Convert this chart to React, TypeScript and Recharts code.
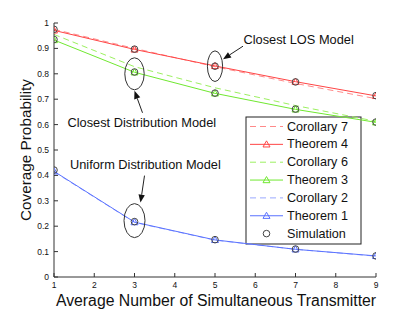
import React from 'react';
import { ComposedChart, Line, XAxis, YAxis, ReferenceDot, Customized } from 'recharts';

const xValues = [1, 3, 5, 7, 9];
const corollary7 = [0.975, 0.9, 0.828, 0.762, 0.702];
const theorem4 = [0.971, 0.896, 0.831, 0.769, 0.713];
const corollary6 = [0.955, 0.828, 0.745, 0.675, 0.613];
const theorem3 = [0.933, 0.806, 0.723, 0.66, 0.609];
const corollary2 = [0.414, 0.215, 0.145, 0.109, 0.082];
const theorem1 = [0.416, 0.216, 0.146, 0.109, 0.083];
const simLOS = [0.975, 0.897, 0.83, 0.768, 0.714];
const simClosest = [0.935, 0.807, 0.724, 0.661, 0.61];
const simUniform = [0.421, 0.218, 0.147, 0.11, 0.083];
const xTicks = [1, 2, 3, 4, 5, 6, 7, 8, 9];
const yTicks = [0, 0.1, 0.2, 0.3, 0.4, 0.5, 0.6, 0.7, 0.8, 0.9, 1];

const RED = '#ff4545';
const RED_D = '#ff8a8a';
const GREEN = '#70e830';
const GREEN_D = '#9cf060';
const BLUE = '#5a72ff';
const BLUE_D = '#9aa8ff';
const SIM = '#444';
const FONT = '"Liberation Sans", Arial, sans-serif';

const data = xValues.map((x, i) => ({
  x,
  c7: corollary7[i],
  t4: theorem4[i],
  c6: corollary6[i],
  t3: theorem3[i],
  c2: corollary2[i],
  t1: theorem1[i],
  sL: simLOS[i],
  sC: simClosest[i],
  sU: simUniform[i],
}));

const triangle = (color: string) => (props: any) => {
  const { cx, cy } = props;
  if (cx == null || cy == null) return <g />;
  const s = 3.5;
  return (
    <polygon
      points={`${cx},${cy - s} ${cx - s},${cy + s * 0.75} ${cx + s},${cy + s * 0.75}`}
      fill="none"
      stroke={color}
      strokeWidth={1}
    />
  );
};

const circle = (props: any) => {
  const { cx, cy } = props;
  if (cx == null || cy == null) return <g />;
  return <circle cx={cx} cy={cy} r={3.3} fill="none" stroke={SIM} strokeWidth={1} />;
};

const Arrow = ({ x1, y1, x2, y2 }: { x1: number; y1: number; x2: number; y2: number }) => {
  const ang = Math.atan2(y2 - y1, x2 - x1);
  const L = 8;
  const W = 3.2;
  const bx = x2 - L * Math.cos(ang);
  const by = y2 - L * Math.sin(ang);
  const px = -Math.sin(ang) * W;
  const py = Math.cos(ang) * W;
  return (
    <g>
      <line x1={x1} y1={y1} x2={bx} y2={by} stroke="#222" strokeWidth={1} />
      <polygon points={`${x2},${y2} ${bx + px},${by + py} ${bx - px},${by - py}`} fill="#111" />
    </g>
  );
};

const legendItems = [
  { label: 'Corollary 7', color: RED_D, dash: true, tri: false, sim: false },
  { label: 'Theorem 4', color: RED, dash: false, tri: true, sim: false },
  { label: 'Corollary 6', color: GREEN_D, dash: true, tri: false, sim: false },
  { label: 'Theorem 3', color: GREEN, dash: false, tri: true, sim: false },
  { label: 'Corollary 2', color: BLUE_D, dash: true, tri: false, sim: false },
  { label: 'Theorem 1', color: BLUE, dash: false, tri: true, sim: false },
  { label: 'Simulation', color: SIM, dash: false, tri: false, sim: true },
];

const Overlay = () => {
  const lx = 246;
  const ly = 117;
  return (
    <g>
      <text
        x={216}
        y={300}
        textAnchor="middle"
        dominantBaseline="central"
        fontFamily={FONT}
        fontSize={15.8}
        fill="#111"
      >
        Average Number of Simultaneous Transmitter
      </text>
      <text
        x={25}
        y={150}
        textAnchor="middle"
        dominantBaseline="central"
        fontFamily={FONT}
        fontSize={15.3}
        fill="#111"
        transform="rotate(-90 25 150)"
      >
        Coverage Probability
      </text>
      <rect x={lx} y={ly} width={115} height={127} fill="#fff" stroke="#222" strokeWidth={1} />
      {legendItems.map((it, i) => {
        const y = 126.5 + i * 17.85;
        return (
          <g key={it.label}>
            {!it.sim && (
              <line
                x1={250}
                x2={283}
                y1={y}
                y2={y}
                stroke={it.color}
                strokeWidth={1}
                strokeDasharray={it.dash ? '6 4' : undefined}
              />
            )}
            {it.tri && triangle(it.color)({ cx: 266.5, cy: y })}
            {it.sim && circle({ cx: 266.5, cy: y })}
            <text
              x={287}
              y={y}
              dominantBaseline="central"
              fontFamily={FONT}
              fontSize={12.6}
              fill="#111"
            >
              {it.label}
            </text>
          </g>
        );
      })}
    </g>
  );
};

const losShape = (props: any) => {
  const { cx, cy } = props;
  return (
    <g>
      <ellipse cx={cx} cy={cy} rx={7.6} ry={15.3} fill="none" stroke="#333" strokeWidth={1} />
      <Arrow x1={cx + 28} y1={cy - 20} x2={cx + 8} y2={cy - 7} />
      <text x={cx + 28.5} y={cy - 27} dominantBaseline="central" fontFamily={FONT} fontSize={12.8} fill="#111">
        Closest LOS Model
      </text>
    </g>
  );
};

const closestShape = (props: any) => {
  const { cx, cy } = props;
  return (
    <g>
      <ellipse cx={cx} cy={cy} rx={9.7} ry={16} fill="none" stroke="#333" strokeWidth={1} />
      <Arrow x1={cx + 8} y1={cy + 39} x2={cx} y2={cy + 17} />
      <text x={cx - 67} y={cy + 48.5} dominantBaseline="central" fontFamily={FONT} fontSize={12.8} fill="#111">
        Closest Distribution Model
      </text>
    </g>
  );
};

const uniformShape = (props: any) => {
  const { cx, cy } = props;
  return (
    <g>
      <ellipse cx={cx} cy={cy} rx={10.5} ry={17} fill="none" stroke="#333" strokeWidth={1} />
      <Arrow x1={cx + 10} y1={cy - 45} x2={cx + 6} y2={cy - 18} />
      <text x={cx - 64.5} y={cy - 56} dominantBaseline="central" fontFamily={FONT} fontSize={12.8} fill="#111">
        Uniform Distribution Model
      </text>
    </g>
  );
};

const tickStyle = { fontFamily: FONT, fontSize: 8.5, fill: '#111' };

export default function App() {
  return (
    <div style={{ position: 'absolute', left: 0, top: 0, width: 415, height: 312, background: '#fff' }}>
      <ComposedChart width={415} height={312} data={data} margin={{ top: 23, right: 39, bottom: 0, left: 0 }}>
        <XAxis
          dataKey="x"
          type="number"
          domain={[1, 9]}
          ticks={xTicks}
          height={35}
          tickSize={-4}
          tickMargin={9}
          tick={tickStyle}
          stroke="#333"
          allowDataOverflow
        />
        <XAxis
          xAxisId="t"
          orientation="top"
          dataKey="x"
          type="number"
          domain={[1, 9]}
          ticks={xTicks}
          height={0}
          tickSize={-4}
          tickFormatter={() => ''}
          stroke="#333"
          allowDataOverflow
        />
        <YAxis
          type="number"
          domain={[0, 1]}
          ticks={yTicks}
          width={54}
          tickSize={-4}
          tickMargin={9}
          tick={tickStyle}
          tickFormatter={(v: number) => (v === 0 ? '0' : v === 1 ? '1' : String(v))}
          stroke="#333"
          allowDataOverflow
        />
        <YAxis
          yAxisId="r"
          orientation="right"
          type="number"
          domain={[0, 1]}
          ticks={yTicks}
          width={0}
          tickSize={-4}
          tickFormatter={() => ''}
          stroke="#333"
          allowDataOverflow
        />
        <Line dataKey="c7" stroke={RED_D} strokeDasharray="6 4" dot={false} strokeWidth={1} isAnimationActive={false} />
        <Line dataKey="t4" stroke={RED} dot={triangle(RED)} strokeWidth={1} isAnimationActive={false} />
        <Line dataKey="c6" stroke={GREEN_D} strokeDasharray="6 4" dot={false} strokeWidth={1} isAnimationActive={false} />
        <Line dataKey="t3" stroke={GREEN} dot={triangle(GREEN)} strokeWidth={1} isAnimationActive={false} />
        <Line dataKey="c2" stroke={BLUE_D} strokeDasharray="6 4" dot={false} strokeWidth={1} isAnimationActive={false} />
        <Line dataKey="t1" stroke={BLUE} dot={triangle(BLUE)} strokeWidth={1} isAnimationActive={false} />
        <Line dataKey="sL" stroke="none" dot={circle} activeDot={false} isAnimationActive={false} />
        <Line dataKey="sC" stroke="none" dot={circle} activeDot={false} isAnimationActive={false} />
        <Line dataKey="sU" stroke="none" dot={circle} activeDot={false} isAnimationActive={false} />
        <ReferenceDot x={5} y={0.83} shape={losShape} />
        <ReferenceDot x={3} y={0.8} shape={closestShape} />
        <ReferenceDot x={3} y={0.222} shape={uniformShape} />
        <Customized component={Overlay} />
      </ComposedChart>
    </div>
  );
}
